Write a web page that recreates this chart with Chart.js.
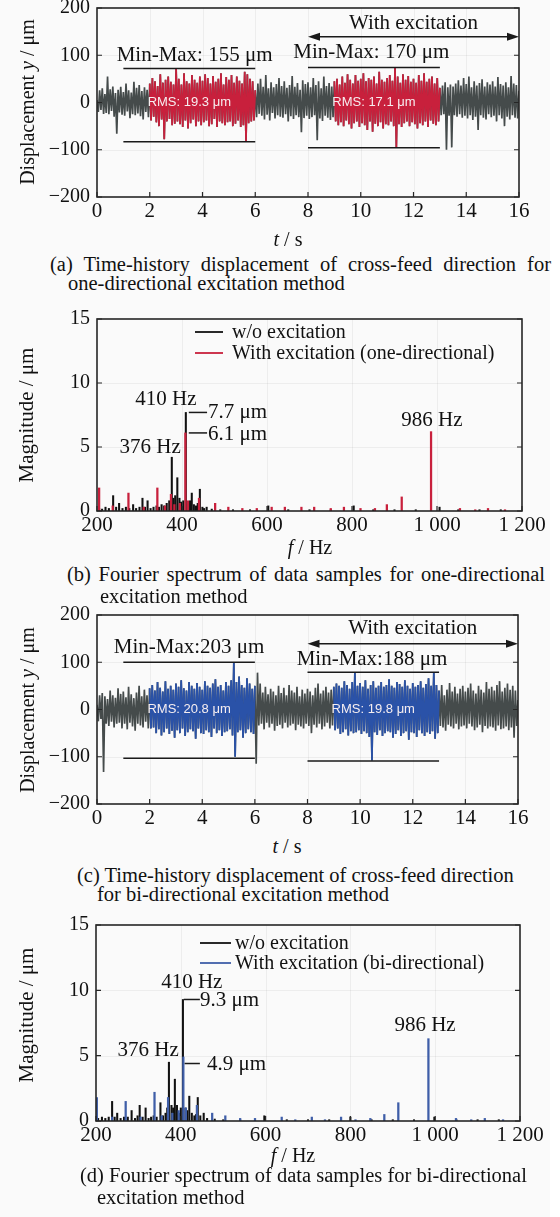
<!DOCTYPE html>
<html>
<head>
<meta charset="utf-8">
<script src="https://cdn.jsdelivr.net/npm/chart.js@4.4.1/dist/chart.umd.min.js"></script>
<style>
  html, body { margin:0; padding:0; }
  body { width:560px; height:1217px; position:relative; overflow:hidden; background:#fafafa;
         font-family:'Liberation Serif','Times New Roman',serif; color:#111; }
  #edge { position:absolute; left:550px; top:0; width:10px; height:1217px; background:#fff; }
  canvas { position:absolute; left:0; }
  .xt { position:absolute; white-space:nowrap; font-size:20px; line-height:20px; transform:translateX(-50%); }
  .yt { position:absolute; white-space:nowrap; font-size:20px; line-height:20px; transform:translate(-50%,-50%) rotate(-90deg); }
  .cap { position:absolute; font-size:20.5px; line-height:20px; white-space:nowrap; }
  .just { text-align:justify; text-align-last:justify; white-space:normal; }
</style>
</head>
<body>
<div id="edge"></div>
<canvas id="ca" width="560" height="230" style="top:0px"></canvas>
<canvas id="cb" width="560" height="245" style="top:300px"></canvas>
<canvas id="cc" width="560" height="235" style="top:600px"></canvas>
<canvas id="cd" width="560" height="245" style="top:910px"></canvas>

<div class="yt" style="left:27px;top:102px">Displacement <i>y</i> / μm</div>
<div class="xt" style="left:288px;top:229px"><i>t</i> / s</div>
<div class="cap just" style="left:50px;top:254px;width:501px">(a) Time-history displacement of cross-feed direction for</div>
<div class="cap" style="left:68px;top:273px">one-directional excitation method</div>

<div class="yt" style="left:26px;top:415px;font-size:21px">Magnitude / μm</div>
<div class="xt" style="left:310px;top:537px"><i>f</i> / Hz</div>
<div class="cap just" style="left:67px;top:564px;width:478px">(b) Fourier spectrum of data samples for one-directional</div>
<div class="cap" style="left:100px;top:586px">excitation method</div>

<div class="yt" style="left:27px;top:710px">Displacement <i>y</i> / μm</div>
<div class="xt" style="left:287px;top:836px"><i>t</i> / s</div>
<div class="cap" style="left:77px;top:865px">(c) Time-history displacement of cross-feed direction</div>
<div class="cap" style="left:97px;top:884px">for bi-directional excitation method</div>

<div class="yt" style="left:26px;top:1015px;font-size:21px">Magnitude / μm</div>
<div class="xt" style="left:293px;top:1145px"><i>f</i> / Hz</div>
<div class="cap" style="left:80px;top:1165px">(d) Fourier spectrum of data samples for bi-directional</div>
<div class="cap" style="left:97px;top:1187px">excitation method</div>

<script>
// ================= DATA =================
const timeStep = 0.05;                       // s between samples
const timeTicks = [0,2,4,6,8,10,12,14,16];
const timeTickLabels = ['0','2','4','6','8','10','12','14','16'];
const dispTicks = [-200,-100,0,100,200];
const dispTickLabels = ['−200','−100','0','100','200'];
const freqTicks = [200,400,600,800,1000,1200];
const freqTickLabels = ['200','400','600','800','1 000','1 200'];
const magTicks = [0,5,10,15];
const magTickLabels = ['0','5','10','15'];

// (a) one-directional excitation, displacement (µm)
const excitationWindowsA = [[2,6],[9,13]];
const dispA = [
  5,-20,26,-16,30,-24,18,-22,55,-25,28,-18,34,-30,20,-66,27,-21,33,-26,
  22,-28,40,-19,26,-33,21,-25,44,-27,31,-23,37,-29,24,-36,32,-20,27,-31,
  40,-38,52,-30,45,-42,35,-50,60,-36,42,-78,48,-40,55,-35,44,-48,38,-45,
  72,-40,50,-46,38,-52,62,-38,45,-55,40,-44,58,-36,48,-50,42,-40,55,-48,
  46,-42,60,-38,52,-50,40,-46,56,-35,44,-52,50,-40,62,-44,38,-48,54,-42,
  48,-40,58,-50,42,-45,55,-38,46,-52,40,-48,65,-83,60,-44,50,-40,45,-38,
  26,-31,40,-24,50,-28,33,-36,58,-26,30,-38,43,-22,32,-34,39,-27,52,-30,
  35,-32,45,-25,31,-40,37,-29,56,-35,33,-27,41,-31,27,-63,47,-33,39,-28,
  43,-35,32,-31,52,-27,37,-80,45,-34,30,-39,55,-28,35,-32,41,-37,34,-31,
  45,-40,50,-48,38,-42,55,-50,42,-38,60,-46,48,-55,40,-44,58,-40,46,-52,
  50,-44,62,-48,45,-58,52,-40,48,-62,55,-45,40,-50,65,-42,48,-55,44,-46,
  52,-48,58,-40,46,-50,74,-95,55,-46,42,-52,60,-44,48,-40,56,-50,44,-42,
  50,-46,42,-55,58,-44,46,-48,62,-40,44,-52,50,-38,55,-45,40,-48,52,-40,
  31,-27,36,-25,43,-100,32,-28,38,-95,34,-27,40,-30,47,-25,36,-32,52,-28,
  39,-34,55,-27,32,-37,45,-30,36,-58,41,-27,49,-32,34,-36,43,-25,38,-31,
  45,-28,34,-40,54,-27,39,-34,36,-50,43,-30,32,-36,56,-27,40,-32,37,-34,25
];
const minMaxA = [[1,6,72,-83],[8,13,74,-96]];           // [t start, t end, max, min]
const minMaxLabelA = [[3.7,100,'Min-Max: 155 μm'],[10.4,106,'Min-Max: 170 μm']];
const rmsLabelA = [[3.5,'RMS: 19.3 μm'],[10.5,'RMS: 17.1 μm']];
const excSpanA = [8,16,139];
const excLabelA = [12,168,'With excitation'];

// (c) bi-directional excitation, displacement (µm)
const excitationWindowsC = [[2,6],[9,13]];
const dispC = [
  10,-25,30,-20,35,-132,28,-30,22,-35,40,-26,30,-38,25,-30,45,-28,33,-40,
  38,-30,26,-42,48,-28,32,-36,24,-45,36,-30,50,-34,28,-38,42,-26,30,-40,
  45,-40,52,-38,40,-50,58,-42,46,-55,38,-48,60,-40,44,-52,50,-45,42,-60,
  55,-44,48,-50,62,-40,45,-56,40,-48,58,-42,50,-46,44,-62,56,-40,48,-50,
  42,-52,60,-44,50,-48,46,-58,55,-40,64,-50,48,-44,52,-56,40,-48,58,-46,
  50,-42,62,-55,100,-100,58,-48,70,-44,52,-60,46,-50,66,-42,55,-48,44,-52,
  50,-115,78,-34,55,-30,36,-42,48,-28,32,-38,44,-30,38,-45,30,-35,50,-32,
  35,-40,46,-28,30,-38,52,-34,40,-30,36,-44,48,-32,28,-36,42,-40,34,-30,
  44,-35,38,-50,30,-32,46,-38,55,-30,34,-42,40,-36,48,-28,36,-40,42,-34,
  48,-44,55,-40,50,-52,46,-48,60,-42,52,-55,44,-46,58,-50,77,-48,50,-44,
  56,-52,48,-46,62,-50,44,-58,52,-108,60,-48,46,-54,50,-44,58,-56,48,-50,
  52,-46,64,-48,50,-60,46,-52,58,-44,54,-56,48,-50,62,-46,50,-64,44,-48,
  56,-50,48,-58,52,-44,60,-50,46,-56,54,-48,66,-52,50,-46,78,-62,52,-50,
  40,-35,52,-38,30,-45,42,-32,56,-36,38,-40,48,-30,34,-42,44,-36,50,-34,
  38,-40,46,-30,55,-36,40,-44,34,-38,50,-32,42,-48,36,-35,58,-40,44,-36,
  48,-38,40,-45,52,-34,60,-42,38,-40,46,-36,55,-44,42,-38,50,-60,40,-35,20
];
const minMaxC = [[1,6,100,-103],[8,13,79,-109]];
const minMaxLabelC = [[3.5,132,'Min-Max:203 μm'],[10.45,105,'Min-Max:188 μm']];
const rmsLabelC = [[3.5,'RMS: 20.8 μm'],[10.5,'RMS: 19.8 μm']];
const excSpanC = [8,16,139];
const excLabelC = [12,171,'With excitation'];

// (b) spectrum, one-directional
const freqB_wo = [205,212,220,228,238,245,252,260,268,276,285,292,300,307,313,319,326,333,340,346,352,358,364,370,376,380,384,389,394,398,403,409,415,419,423,428,433,437,442,448,452,458,470,490,520,560,603,650,700,750,804,850,900,950,1006,1050,1100,1150];
const magB_wo  = [0.2,0.15,0.3,0.2,1.2,0.3,0.6,0.2,0.3,0.2,0.5,0.2,0.3,1.0,0.3,0.8,0.2,0.3,0.4,0.3,0.5,0.4,0.6,0.8,4.2,1.0,1.2,2.6,1.0,0.7,0.8,7.7,0.6,0.8,1.4,0.5,0.4,0.6,1.7,0.3,0.2,0.3,0.15,0.1,0.1,0.1,0.4,0.1,0.1,0.1,0.4,0.1,0.1,0.1,0.3,0.1,0.1,0.1];
const freqB_ex = [205,237,274,310,342,360,374,382,395,408,414,440,478,509,542,576,611,642,681,711,750,781,820,854,882,917,986,1054,1090,1120,1160];
const magB_ex  = [1.8,0.4,1.4,0.3,1.8,0.4,1.3,0.5,0.6,6.1,0.8,1.0,0.6,0.3,0.2,0.2,0.3,0.3,0.3,0.3,0.2,0.3,0.2,0.2,0.5,1.1,6.2,0.2,0.1,0.2,0.1];
const leadersB = [[416,459,7.7],[416,459,6.1]];
const labelsB = [[362,8.7,'410 Hz','center'],[325,5.0,'376 Hz','center'],[988,7.1,'986 Hz','center'],[461,7.7,'7.7 μm','left'],[461,6.0,'6.1 μm','left']];

// (d) spectrum, bi-directional
const freqD_wo = [205,214,222,230,238,244,250,258,266,275,284,292,298,303,310,317,324,330,336,343,352,358,364,368,372,378,382,386,391,396,400,405,411,415,420,426,432,436,440,446,454,462,480,500,540,597,650,700,750,800,850,900,950,998,1050,1100,1150];
const magD_wo  = [0.2,0.3,0.2,0.3,1.5,0.3,0.6,0.2,0.3,0.3,0.8,0.2,0.4,1.2,0.3,1.0,0.2,0.3,0.4,0.3,1.4,0.4,0.6,1.0,4.5,1.2,1.0,3.2,1.2,0.6,1.0,9.3,1.0,0.8,1.9,0.6,0.4,0.5,1.8,0.4,0.6,0.2,0.15,0.1,0.1,0.4,0.1,0.1,0.1,0.3,0.1,0.1,0.1,0.3,0.1,0.1,0.1];
const freqD_ex = [202,238,270,305,338,355,370,380,395,406,412,438,474,505,540,575,638,670,709,740,778,812,847,880,913,984,1049,1085,1117,1160];
const magD_ex  = [1.8,0.3,1.5,0.3,2.2,0.4,1.8,0.6,0.8,4.9,1.0,1.2,0.6,0.4,0.2,0.2,0.3,0.1,0.3,0.1,0.3,0.1,0.2,0.5,1.4,6.3,0.2,0.1,0.2,0.1];
const leadersD = [[407,445,9.3],[409,445,4.4]];
const labelsD = [[426,10.6,'410 Hz','center'],[323,5.4,'376 Hz','center'],[976,7.3,'986 Hz','center'],[445,9.2,'9.3 μm','left'],[462,4.3,'4.9 μm','left']];

// ================= RENDERING =================
Chart.defaults.font.family = "'Liberation Serif','Times New Roman',serif";
Chart.defaults.color = '#111';

const SERIF21 = "21px 'Liberation Serif','Times New Roman',serif";
const SERIF20 = "20px 'Liberation Serif','Times New Roman',serif";
const RMSFONT = "13px 'Liberation Sans',Arial,sans-serif";
const GRAY = '#454b4b', RED = '#c8203c', BLUE = '#2a52a8', BLUE_SPEC = '#3f5ea8', BLACK = '#111111';

const DECO = {};

const deco = {
  id: 'deco',
  beforeDatasetsDraw(chart) {
    const {ctx, chartArea: a} = chart, xs = chart.scales.x, ys = chart.scales.y;
    ctx.save();
    ctx.strokeStyle = 'rgba(0,0,0,0.05)'; ctx.lineWidth = 1;
    xs.ticks.forEach(t => { const p = Math.round(xs.getPixelForValue(t.value)) + 0.5;
      if (p > a.left + 2 && p < a.right - 2) { ctx.beginPath(); ctx.moveTo(p, a.top); ctx.lineTo(p, a.bottom); ctx.stroke(); } });
    ys.ticks.forEach(t => { const p = Math.round(ys.getPixelForValue(t.value)) + 0.5;
      if (p > a.top + 2 && p < a.bottom - 2) { ctx.beginPath(); ctx.moveTo(a.left, p); ctx.lineTo(a.right, p); ctx.stroke(); } });
    ctx.restore();
  },
  afterDatasetsDraw(chart) {
    const d = DECO[chart.canvas.id] || {};
    const {ctx, chartArea: a} = chart, xs = chart.scales.x, ys = chart.scales.y;
    const X = v => xs.getPixelForValue(v), Y = v => ys.getPixelForValue(v);
    ctx.save();
    ctx.strokeStyle = '#262626'; ctx.lineWidth = 1.6;
    ctx.strokeRect(a.left, a.top, a.right - a.left, a.bottom - a.top);
    ctx.lineWidth = 1.2;
    xs.ticks.forEach(t => { const p = X(t.value); ctx.beginPath(); ctx.moveTo(p, a.bottom); ctx.lineTo(p, a.bottom - 5); ctx.stroke(); });
    ys.ticks.forEach(t => { const p = Y(t.value); ctx.beginPath();
      ctx.moveTo(a.left, p); ctx.lineTo(a.left + 5, p); ctx.moveTo(a.right, p); ctx.lineTo(a.right - 5, p); ctx.stroke(); });
    ctx.strokeStyle = '#1a1a1a'; ctx.lineWidth = 1.5;
    (d.hlines || []).forEach(([x0, x1, y]) => { ctx.beginPath(); ctx.moveTo(X(x0), Y(y)); ctx.lineTo(X(x1), Y(y)); ctx.stroke(); });
    ctx.fillStyle = '#1a1a1a';
    (d.arrows || []).forEach(([x0, x1, y]) => {
      const p0 = X(x0), p1 = X(x1), py = Y(y), hl = 12, hw = 4;
      ctx.beginPath(); ctx.moveTo(p0 + hl - 2, py); ctx.lineTo(p1 - hl + 2, py); ctx.stroke();
      ctx.beginPath(); ctx.moveTo(p0, py); ctx.lineTo(p0 + hl, py - hw); ctx.lineTo(p0 + hl, py + hw); ctx.closePath(); ctx.fill();
      ctx.beginPath(); ctx.moveTo(p1, py); ctx.lineTo(p1 - hl, py - hw); ctx.lineTo(p1 - hl, py + hw); ctx.closePath(); ctx.fill();
    });
    ctx.textBaseline = 'middle';
    (d.texts || []).forEach(([x, y, s, align, font, color]) => {
      ctx.font = font; ctx.fillStyle = color; ctx.textAlign = align; ctx.fillText(s, X(x), Y(y));
    });
    if (d.legend) {
      const L = d.legend;
      ctx.font = SERIF20; ctx.textAlign = 'left'; ctx.lineWidth = 1.8;
      L.items.forEach((di, k) => {
        const ds = chart.data.datasets[di], yy = L.y + k * L.dy;
        ctx.strokeStyle = ds.backgroundColor;
        ctx.beginPath(); ctx.moveTo(L.x, yy); ctx.lineTo(L.x + L.len, yy); ctx.stroke();
        ctx.fillStyle = '#111'; ctx.fillText(ds.label, L.x + L.len + L.gap, yy + 1);
      });
    }
    ctx.restore();
  }
};

function baseOptions(area, H, ax) {
  const XH = 30;
  return {
    responsive: false, animation: false, events: [],
    layout: { padding: { left: 0, top: area.top, right: 560 - area.right, bottom: H - area.bottom - XH } },
    plugins: { legend: { display: false }, tooltip: { enabled: false } },
    scales: {
      x: { type: 'linear', min: ax.xmin, max: ax.xmax, offset: false,
           grid: { display: false, drawTicks: false, offset: false }, border: { display: false },
           afterBuildTicks: s => { s.ticks = ax.xt.map(v => ({ value: v })); },
           afterFit: s => { s.height = XH; s.paddingLeft = 0; s.paddingRight = 0; },
           ticks: { autoSkip: false, maxRotation: 0, padding: 2, font: { size: 21 }, color: '#111',
                    callback: v => ax.xl[ax.xt.indexOf(v)] } },
      y: { type: 'linear', min: ax.ymin, max: ax.ymax,
           grid: { display: false, drawTicks: false }, border: { display: false },
           afterBuildTicks: s => { s.ticks = ax.yt.map(v => ({ value: v })); },
           afterFit: s => { s.width = area.left; s.paddingTop = 0; s.paddingBottom = 0; },
           ticks: { autoSkip: false, padding: 7, font: { size: 20 }, color: '#111',
                    callback: v => ax.yl[ax.yt.indexOf(v)] } }
    }
  };
}

function timePanel(id, vals, windows, excColor, minMax, mmLabels, rmsLabels, span, spanLabel, area, H) {
  const all = [], exc = [];
  vals.forEach((v, i) => {
    const t = +(i * timeStep).toFixed(2);
    all.push({ x: t, y: v });
    const inW = windows.some(w => t >= w[0] - 1e-9 && t <= w[1] + 1e-9);
    exc.push({ x: t, y: inW ? v : null });
  });
  const hlines = [], texts = [];
  minMax.forEach(m => { hlines.push([m[0], m[1], m[2]]); hlines.push([m[0], m[1], m[3]]); });
  mmLabels.forEach(l => texts.push([l[0], l[1], l[2], 'center', SERIF21, '#111']));
  rmsLabels.forEach(l => texts.push([l[0], 0, l[1], 'center', RMSFONT, '#f6eef0']));
  texts.push([spanLabel[0], spanLabel[1], spanLabel[2], 'center', SERIF21, '#111']);
  DECO[id] = { hlines, texts, arrows: [span] };
  new Chart(document.getElementById(id), {
    type: 'line',
    data: { datasets: [
      { data: exc, borderColor: excColor, borderWidth: 1.7, pointRadius: 0, tension: 0, spanGaps: false },
      { data: all, borderColor: GRAY, borderWidth: 1.7, pointRadius: 0, tension: 0 }
    ] },
    options: baseOptions(area, H, { xmin: 0, xmax: 16, xt: timeTicks, xl: timeTickLabels,
                                    ymin: -200, ymax: 200, yt: dispTicks, yl: dispTickLabels }),
    plugins: [deco]
  });
}

function specPanel(id, fWo, mWo, fEx, mEx, excColor, excLabel, leaders, labels, legendPos, area, H) {
  DECO[id] = {
    hlines: leaders,
    texts: labels.map(l => [l[0], l[1], l[2], l[3], SERIF21, '#111']),
    legend: Object.assign({ items: [1, 0] }, legendPos)
  };
  new Chart(document.getElementById(id), {
    type: 'bar',
    data: { datasets: [
      { label: excLabel, data: fEx.map((f, i) => ({ x: f, y: mEx[i] })), backgroundColor: excColor,
        barThickness: 1.6, grouped: false, borderWidth: 0 },
      { label: 'w/o excitation', data: fWo.map((f, i) => ({ x: f, y: mWo[i] })), backgroundColor: BLACK,
        barThickness: 1.4, grouped: false, borderWidth: 0 }
    ] },
    options: baseOptions(area, H, { xmin: 200, xmax: 1200, xt: freqTicks, xl: freqTickLabels,
                                    ymin: 0, ymax: 15, yt: magTicks, yl: magTickLabels }),
    plugins: [deco]
  });
}

timePanel('ca', dispA, excitationWindowsA, RED, minMaxA, minMaxLabelA, rmsLabelA, excSpanA, excLabelA,
          { left: 97, top: 8, right: 519, bottom: 197 }, 230);
specPanel('cb', freqB_wo, magB_wo, freqB_ex, magB_ex, RED, 'With excitation (one-directional)', leadersB, labelsB,
          { x: 195, y: 32, dy: 21, len: 28, gap: 9 }, { left: 97, top: 19, right: 522, bottom: 211 }, 245);
timePanel('cc', dispC, excitationWindowsC, BLUE, minMaxC, minMaxLabelC, rmsLabelC, excSpanC, excLabelC,
          { left: 97, top: 15, right: 518, bottom: 204 }, 235);
specPanel('cd', freqD_wo, magD_wo, freqD_ex, magD_ex, BLUE_SPEC, 'With excitation (bi-directional)', leadersD, labelsD,
          { x: 200, y: 33, dy: 20, len: 31, gap: 4 }, { left: 96, top: 15, right: 520, bottom: 211 }, 245);
</script>
</body>
</html>
